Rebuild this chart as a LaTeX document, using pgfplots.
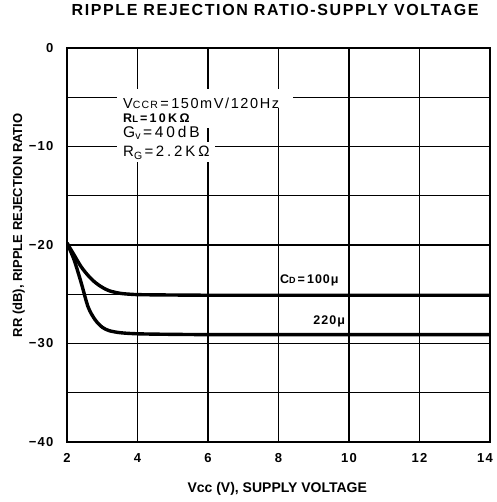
\documentclass[border=0pt]{standalone}
\usepackage{pgfplots}
\pgfplotsset{compat=1.18}
\usepackage{fontspec}
\setmainfont{Liberation Sans}
\newfontfamily\wide[LetterSpace=8]{Liberation Sans}
\newfontfamily\wider[LetterSpace=10]{Liberation Sans}
\newfontfamily\annot[LetterSpace=11]{Liberation Sans}
\newfontfamily\annotb[LetterSpace=19]{Liberation Sans}
\begin{document}
\begin{tikzpicture}
\begin{axis}[
  scale only axis,
  width=423pt, height=394pt,
  xmin=2, xmax=14, ymin=-40, ymax=0,
  xtick={2,4,...,14},
  xticklabels={2,4,6,8,10,12,{\hspace*{-10pt}14}},
  ytick={-40,-30,-20,-10,0},
  yticklabels={{−40},{−30},{−20},{−10},0},
  minor ytick={-35,-25,-15,-5},
  grid=both,
  grid style={black, line width=1.4pt},
  minor grid style={black, line width=1.4pt},
  axis line style={black, line width=1.8pt},
  tick style={draw=none},
  minor tick length=0pt,
  major tick length=0pt,
  ticklabel style={font=\wider\bfseries\fontsize{13}{15}\selectfont},
  /pgf/number format/assume math mode=true,
  xticklabel style={anchor=center, yshift=-16pt},
  yticklabel style={anchor=east, xshift=-10pt},
  title={RIPPLE REJECTION RATIO-SUPPLY VOLTAGE},
  title style={font=\wider\bfseries\fontsize{16}{18}\selectfont, at={(axis description cs:0.492,1.081)}, anchor=center},
  xlabel={Vcc (V), SUPPLY VOLTAGE},
  xlabel style={font=\bfseries\fontsize{14}{16}\selectfont, at={(axis description cs:0.497,-0.118)}, anchor=center},
  ylabel={RR (dB), RIPPLE REJECTION RATIO},
  ylabel style={font=\bfseries\fontsize{13}{15}\selectfont, at={(axis description cs:-0.114,0.55)}, anchor=center, rotate=0},
]
\addplot[black, line width=3.4pt, smooth] coordinates {
(2,-19.8) (2.2,-21.0) (2.4,-22.2) (2.6,-23.1) (2.8,-23.8) (3.0,-24.3) (3.2,-24.65) (3.5,-24.9) (3.8,-25.0) (4.2,-25.05) (6,-25.1) (8,-25.1) (10,-25.1) (12,-25.1) (14,-25.1)};
\addplot[black, line width=3.4pt, smooth] coordinates {
(2,-19.8) (2.2,-21.5) (2.4,-23.8) (2.6,-26.3) (2.8,-27.6) (3.0,-28.35) (3.2,-28.7) (3.5,-28.9) (3.9,-29.0) (4.5,-29.05) (6,-29.1) (8,-29.1) (10,-29.1) (12,-29.1) (14,-29.1)};
% white backgrounds behind the annotation block
\fill[white] (axis cs:3.42,-4.16) rectangle (axis cs:8.41,-6.09);
\fill[white] (axis cs:3.42,-6.0) rectangle (axis cs:6.15,-8.1);
\fill[white] (axis cs:3.42,-8.0) rectangle (axis cs:5.93,-9.6);
\fill[white] (axis cs:3.42,-9.5) rectangle (axis cs:6.2,-11.55);
\node[anchor=west, inner sep=0pt, font=\annot\fontsize{14.5}{15}\selectfont] at (axis cs:3.59,-5.58) {V{\fontsize{10.5}{11}\selectfont CCR}\,=\,150mV/120Hz};
\node[anchor=west, inner sep=0pt, font=\annotb\bfseries\fontsize{12.5}{13}\selectfont] at (axis cs:3.59,-7.11) {R{\fontsize{9.5}{10}\selectfont L}\,=\,10KΩ};
\node[anchor=west, inner sep=0pt, font=\annotb\fontsize{15.5}{16}\selectfont] at (axis cs:3.59,-8.63) {G\raisebox{-2pt}{\fontsize{10.5}{11}\selectfont v}\,=\,40dB};
\node[anchor=west, inner sep=0pt, font=\annotb\fontsize{15}{16}\selectfont] at (axis cs:3.59,-10.66) {R\raisebox{-3pt}{\fontsize{10.5}{11}\selectfont G}\,=\,2.2KΩ};
\node[anchor=west, font=\wide\bfseries\fontsize{12.5}{13}\selectfont, inner sep=0pt] at (axis cs:8.04,-23.55) {C{\fontsize{9}{10}\selectfont D}\,=\,100μ};
\node[anchor=east, font=\wide\bfseries\fontsize{12.5}{13}\selectfont, inner sep=0pt] at (axis cs:9.89,-27.8) {220μ};
\end{axis}
\pgfresetboundingbox
\path[use as bounding box] (-67pt,-60pt) rectangle (429pt,442pt);
\end{tikzpicture}
\end{document}
